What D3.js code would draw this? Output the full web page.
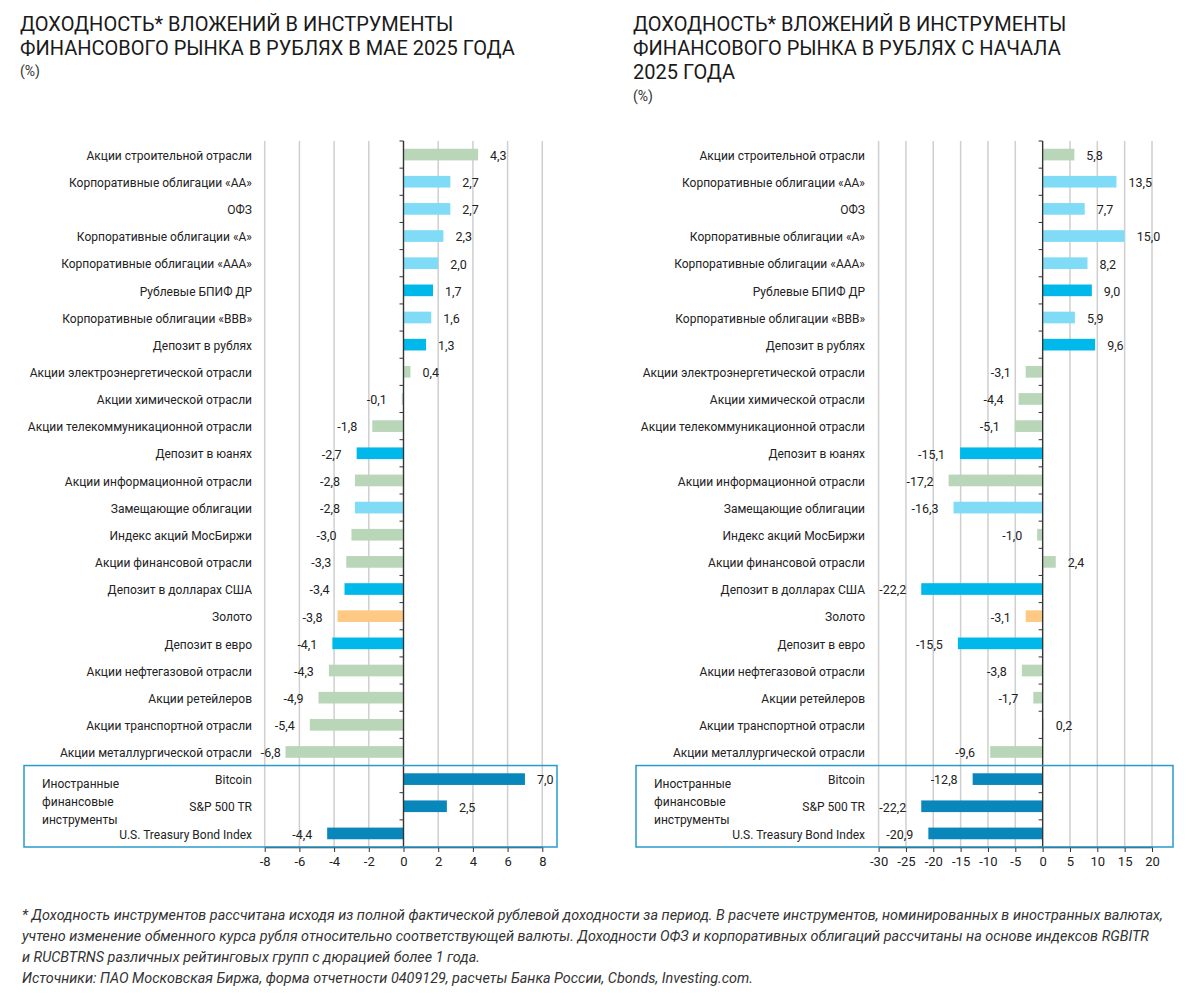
<!DOCTYPE html>
<html lang="ru">
<meta charset="utf-8">
<script src="https://d3js.org/d3.v7.min.js"></script>
<style>
    body { margin: 0; background: #fff; }
    text { font-family: Roboto, "Noto Sans", sans-serif; fill: #222; }
    .title { font-size: 20px; fill: #1a1a1a; }
    .unit { font-size: 14px; fill: #333; }
    .cat { font-size: 12px; }
    .val { font-size: 12.5px; }
    .tick-label { font-size: 13px; }
    .note { font-size: 14.4px; font-style: italic; fill: #333; }
</style>
<svg id="base" width="1200" height="1000"></svg>

<script>
    var categories = [
        "Акции строительной отрасли",
        "Корпоративные облигации «АА»",
        "ОФЗ",
        "Корпоративные облигации «А»",
        "Корпоративные облигации «ААА»",
        "Рублевые БПИФ ДР",
        "Корпоративные облигации «BBB»",
        "Депозит в рублях",
        "Акции электроэнергетической отрасли",
        "Акции химической отрасли",
        "Акции телекоммуникационной отрасли",
        "Депозит в юанях",
        "Акции информационной отрасли",
        "Замещающие облигации",
        "Индекс акций МосБиржи",
        "Акции финансовой отрасли",
        "Депозит в долларах США",
        "Золото",
        "Депозит в евро",
        "Акции нефтегазовой отрасли",
        "Акции ретейлеров",
        "Акции транспортной отрасли",
        "Акции металлургической отрасли",
        "Bitcoin",
        "S&P 500 TR",
        "U.S. Treasury Bond Index"
    ];

    // group of each category (sets the bar colour)
    var groups = [
        "stock", "bond", "bond", "bond", "bond", "deposit", "bond", "deposit",
        "stock", "stock", "stock", "deposit", "stock", "bond", "stock", "stock",
        "deposit", "gold", "deposit", "stock", "stock", "stock", "stock",
        "foreign", "foreign", "foreign"
    ];

    var mayValues = [4.3, 2.7, 2.7, 2.3, 2.0, 1.7, 1.6, 1.3, 0.4, -0.1, -1.8, -2.7, -2.8,
        -2.8, -3.0, -3.3, -3.4, -3.8, -4.1, -4.3, -4.9, -5.4, -6.8, 7.0, 2.5, -4.4];

    var ytdValues = [5.8, 13.5, 7.7, 15.0, 8.2, 9.0, 5.9, 9.6, -3.1, -4.4, -5.1, -15.1, -17.2,
        -16.3, -1.0, 2.4, -22.2, -3.1, -15.5, -3.8, -1.7, 0.2, -9.6, -12.8, -22.2, -20.9];

    var mayTicks = [-8, -6, -4, -2, 0, 2, 4, 6, 8];
    var ytdTicks = [-30, -25, -20, -15, -10, -5, 0, 5, 10, 15, 20];

    var foreignLabel = ["Иностранные", "финансовые", "инструменты"];

    var leftTitle = ["ДОХОДНОСТЬ* ВЛОЖЕНИЙ В ИНСТРУМЕНТЫ", "ФИНАНСОВОГО РЫНКА В РУБЛЯХ В МАЕ 2025 ГОДА"];
    var rightTitle = ["ДОХОДНОСТЬ* ВЛОЖЕНИЙ В ИНСТРУМЕНТЫ", "ФИНАНСОВОГО РЫНКА В РУБЛЯХ С НАЧАЛА", "2025 ГОДА"];

    var notes = [
        "* Доходность инструментов рассчитана исходя из полной фактической рублевой доходности за период. В расчете инструментов, номинированных в иностранных валютах,",
        "учтено изменение обменного курса рубля относительно соответствующей валюты. Доходности ОФЗ и корпоративных облигаций рассчитаны на основе индексов RGBITR",
        "и RUCBTRNS различных рейтинговых групп с дюрацией более 1 года.",
        "Источники: ПАО Московская Биржа, форма отчетности 0409129, расчеты Банка России, Cbonds, Investing.com."
    ];

    var color = d3.scaleOrdinal()
        .domain(["stock", "bond", "deposit", "gold", "foreign"])
        .range(["#b9d6b9", "#80dcf6", "#00b8ea", "#fdc985", "#0a87ba"]);

    var svg = d3.select("#base");

    var fmt = function (v) { return v.toFixed(1).replace(".", ","); };

    function titleBlock(x, lines, unitY) {
        svg.append("g").selectAll("text")
            .data(lines)
            .enter()
            .append("text")
            .attr("class", "title")
            .attr("x", x)
            .attr("y", function (d, i) { return 31 + i * 24; })
            .text(function (d) { return d; });
        svg.append("text")
            .attr("class", "unit")
            .attr("x", x)
            .attr("y", unitY)
            .text("(%)");
    }

    function panel(values, domain, range, ticks, labelX, boxX, boxW) {
        var top = 141, bottom = 847;

        var x = d3.scaleLinear().domain(domain).range(range);
        var y = d3.scaleBand()
            .domain(categories)
            .range([top, bottom])
            .paddingInner(0.57)
            .paddingOuter(0.285);

        var g = svg.append("g");

        // vertical grid
        g.append("g").selectAll("line")
            .data(ticks)
            .enter()
            .append("line")
            .attr("x1", function (d) { return x(d); })
            .attr("x2", function (d) { return x(d); })
            .attr("y1", top)
            .attr("y2", bottom)
            .attr("stroke", "#cfcfcf")
            .attr("stroke-width", 1.5);

        // bars
        g.append("g").selectAll("rect")
            .data(values)
            .enter()
            .append("rect")
            .attr("x", function (d) { return x(Math.min(0, d)); })
            .attr("y", function (d, i) { return y(categories[i]); })
            .attr("width", function (d) { return Math.abs(x(d) - x(0)); })
            .attr("height", y.bandwidth())
            .attr("fill", function (d, i) { return color(groups[i]); });

        // value labels (kept inside the plot area like the original)
        g.append("g").selectAll("text")
            .data(values)
            .enter()
            .append("text")
            .attr("class", "val")
            .attr("x", function (d) {
                return d >= 0 ? x(d) + 12 : Math.max(x(d) - 15, range[0] + 16);
            })
            .attr("y", function (d, i) { return y(categories[i]) + y.bandwidth() / 2 + 1; })
            .attr("dy", "0.35em")
            .attr("text-anchor", function (d) { return d >= 0 ? "start" : "end"; })
            .text(function (d) { return fmt(d); });

        // category labels
        g.append("g").selectAll("text")
            .data(categories)
            .enter()
            .append("text")
            .attr("class", "cat")
            .attr("x", labelX)
            .attr("y", function (d) { return y(d) + y.bandwidth() / 2 + 1; })
            .attr("dy", "0.35em")
            .attr("text-anchor", "end")
            .text(function (d) { return d; });

        // zero axis with ticks between categories
        var bounds = d3.range(categories.length + 1).map(function (i) { return top + i * y.step(); });
        g.append("line")
            .attr("x1", x(0)).attr("x2", x(0))
            .attr("y1", top).attr("y2", bottom)
            .attr("stroke", "#333").attr("stroke-width", 1.3);
        g.append("g").selectAll("line")
            .data(bounds)
            .enter()
            .append("line")
            .attr("x1", x(0) - 4).attr("x2", x(0))
            .attr("y1", function (d) { return d; })
            .attr("y2", function (d) { return d; })
            .attr("stroke", "#333");

        // bottom axis
        var axis = g.append("g")
            .attr("class", "axis")
            .attr("transform", "translate(0," + bottom + ")")
            .call(d3.axisBottom(x)
                .tickValues(ticks)
                .tickSize(5)
                .tickSizeOuter(0)
                .tickFormat(function (d) { return String(d); }));
        axis.select(".domain").attr("stroke", "#333").attr("stroke-width", 1.5);
        axis.selectAll(".tick line").attr("stroke", "#333");
        axis.selectAll(".tick text")
            .attr("class", "tick-label")
            .attr("y", 10)
            .attr("fill", "#222")
            .style("font-family", "Roboto, sans-serif");

        // frame around foreign instruments
        var boxTop = bounds[23];
        g.append("rect")
            .attr("x", boxX)
            .attr("y", boxTop)
            .attr("width", boxW)
            .attr("height", bottom - boxTop)
            .attr("fill", "none")
            .attr("stroke", "#2a9acb")
            .attr("stroke-width", 1.5);

        g.append("g").selectAll("text")
            .data(foreignLabel)
            .enter()
            .append("text")
            .attr("class", "cat")
            .attr("x", boxX + 18)
            .attr("y", function (d, i) { return boxTop + 22 + i * 18; })
            .text(function (d) { return d; });
    }

    titleBlock(20, leftTitle, 76);
    titleBlock(633, rightTitle, 101);

    panel(mayValues, [-8, 8], [264.7, 542.3], mayTicks, 252, 24, 533);
    panel(ytdValues, [-30, 20], [878.6, 1152], ytdTicks, 865, 636, 537);

    svg.append("g").selectAll("text")
        .data(notes)
        .enter()
        .append("text")
        .attr("class", "note")
        .attr("x", 22)
        .attr("y", function (d, i) { return 920 + i * 21; })
        .text(function (d) { return d; });
</script>
</html>
